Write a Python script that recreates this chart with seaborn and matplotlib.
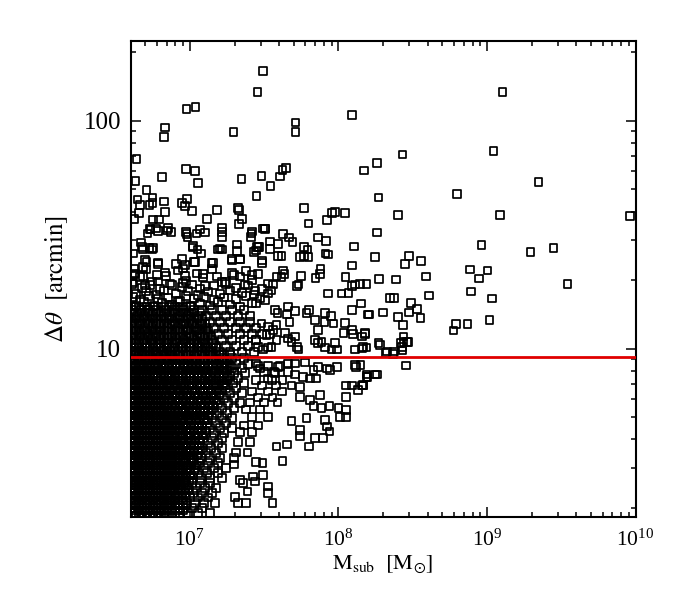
import numpy as np
import pandas as pd
import matplotlib
matplotlib.use('Agg')
import matplotlib.pyplot as plt
import matplotlib.ticker as mticker
import seaborn as sns

sns.set_theme(style='ticks')
plt.rcParams['font.family'] = ['Liberation Serif', 'DejaVu Serif']
plt.rcParams['mathtext.fontset'] = 'stix'
plt.rcParams['text.color'] = 'black'
plt.rcParams['axes.labelcolor'] = 'black'
plt.rcParams['xtick.color'] = 'black'
plt.rcParams['ytick.color'] = 'black'

# subhalo mass in units of 1e6 Msun, separation in arcmin
# isolated points read one by one
m_sparse = [
    31, 28.6, 9.5, 10.9, 6.8, 6.7, 19.7, 51.6, 51.6, 123,
    4.37, 4.3, 6.5, 9.4, 10.8, 11.4, 22.3, 30.4, 35, 40.3,
    42, 44.5, 28.1, 5.1, 5.6, 6.7, 6.8, 9.6, 8.9, 9.3,
    10.3, 13.0, 15.3, 21.2, 21.5, 22.5, 21.5, 58.7, 63, 84,
    91, 95, 111, 182, 186, 1270, 1110, 270, 2220, 628,
    252, 1230, 9200, 182, 920, 1970, 2800, 176, 299, 282,
    361, 767, 1010, 885, 3480, 188, 245, 390, 409, 783,
    1080, 222, 236, 308, 338, 299, 357, 252, 271, 199,
    160, 1040, 620, 740, 149, 32, 42.4, 46.7, 49, 34.6,
    39.4, 29.2, 72.6, 82.7, 58.7, 62, 58.7, 63, 55, 82,
    85, 127, 39.4, 41.5, 30.7, 28, 123, 76, 42.5,
    4.44, 4.6, 5.37, 5.6, 4.53, 4.2, 5.65, 6.2, 5.43, 5.95,
    5.2, 4.71, 5.37, 5.65, 4.86, 4.17, 7.05, 7.5, 9.5, 9.65,
    11.1, 12.6, 16.4, 16.4, 26, 25.7, 31.2, 10.4, 11.3, 11.9,
    15.5, 16.5, 20.7, 21.7, 19.1, 27, 28.9, 5.1, 6.1, 8.1,
    9.3, 10.7, 14, 4.86, 4.25, 9.0,
    75, 70.3, 56, 43.3, 41.5, 38.4, 36.4, 35.5, 33.7, 52.5,
    54, 27.4, 29.6, 32, 28, 112, 140, 155, 129, 123,
    105, 117, 85.5, 142, 123, 159, 81, 89, 93, 80.5,
    69.5, 73, 63.5, 61, 51, 46, 45, 47, 37.4, 39,
    38.4, 36.4, 33.7, 30.4, 32.9, 34.6, 111, 123, 126, 108,
    151, 144, 186, 212, 236, 274, 267, 297, 129, 147,
    81, 90, 97.5, 95, 69.5, 73, 77, 51, 52.5, 54,
    46, 43.7, 48.3, 38.4, 35.5, 33.7, 31.2, 28.9, 28,
    285, 129, 132, 155, 176, 113, 144, 123, 97.5, 83.5,
    88, 73, 68, 64.5, 71, 58, 51, 51, 59.5, 46,
    39.4, 37.4, 33.7, 29.6, 28, 48.3, 55,
    42, 36, 33.7, 33.7, 31.2, 30.9, 28, 26.7, 27.4, 24.5,
    22.9, 21.7, 21.2, 20.1, 24, 63.5, 55, 69.5, 79, 87,
    81, 100, 113, 113, 103, 83.5, 113, 136, 147, 155,
    182, 38.4, 45, 55, 48.3, 61, 68, 77, 87, 55,
    64.5, 75,
    274, 262, 290, 270, 190, 210, 233, 155, 144, 151,
    157, 146, 141, 595,
    28.8, 33.7, 40.6, 31.6, 37.0, 45.9, 27.9, 35.8, 42.0, 30.7,
    38.1, 26.3, 33.7, 41.9, 28.8, 36.0, 25.5, 31.6, 39.0, 23.9,
    29.7, 26.3, 33.7, 23.2, 28.8, 21.8, 26.3, 21.1, 25.5, 20.5,
    24.4, 19.8,
    5.39, 6.10, 7.13, 9.42, 11.7, 16.5, 26.3, 32.0,
    4.76, 5.56, 10.5, 16.0, 20.8, 28.3, 34.7,
    4.99, 6.10, 8.85, 10.8, 14.3, 19.2, 21.8, 30.7,
    4.27, 4.84, 6.80, 9.27, 12.3, 15.2, 19.2, 26.3,
    4.14, 4.99, 6.10, 7.58, 8.99, 12.7, 17.3, 23.6, 33.7,
]
theta_sparse = [
    165, 134, 113, 115, 93.5, 85, 89.5, 98.4, 89.2, 106,
    67.8, 54.6, 56.8, 61.4, 60.4, 53.5, 55.5, 57.2, 51.9, 57,
    61, 62, 46.9, 49.7, 46, 44.2, 39.9, 45.4, 43.7, 42.4,
    40.2, 37, 40.5, 41.5, 40.5, 37, 35.2, 41.5, 35.5, 36.7,
    39.3, 39.9, 39.5, 65.5, 46, 133.6, 73.8, 71.2, 54, 47.8,
    38.5, 38.5, 38.2, 32.3, 28.5, 26.6, 27.7, 25.3, 25.5, 23.5,
    24.3, 22.3, 22, 20.3, 19.2, 20.2, 20.1, 20.7, 17.1, 17.8,
    16.6, 16.7, 16.7, 15.9, 14.9, 14.4, 13.6, 13.8, 12.7, 14.4,
    14.1, 13.4, 12.8, 12.8, 60.6, 33.7, 31.8, 30.8, 29.4, 29.5,
    28.8, 28.0, 30.7, 29.7, 28, 27.2, 25.5, 25.3, 25.3, 26.2,
    25.9, 28.1, 25.5, 25.5, 24.4, 27, 23.2, 22.4, 22,
    45.2, 42.7, 42.7, 43.6, 39.3, 37, 36.9, 36.9, 33.4, 33.7,
    32, 29.3, 27.6, 27.6, 27.4, 26.2, 33, 32.6, 31.8, 31,
    32, 32.3, 32.6, 31, 32, 31, 33.7, 27.8, 27.2, 26.2,
    27.2, 27.2, 28.7, 24.6, 24.8, 26.5, 28, 24, 23.6, 23.6,
    23.3, 24, 23.8, 22.8, 22.5, 22.5,
    21.3, 20.4, 20.9, 21.3, 20.6, 20.7, 19.1, 18.0, 17.5, 18.8,
    19.1, 18, 16.6, 16.4, 15.8, 20.6, 19.2, 19.2, 19.1, 18.8,
    17.5, 17.6, 17.5, 15.8, 14.8, 14.1, 14.3, 13.9, 12.9, 13.1,
    13.4, 12.1, 14.8, 14.3, 14.6, 15.3, 14.1, 13.1, 14.8, 14.3,
    12.7, 12.1, 12.5, 12.9, 11.5, 11.6, 12.95, 12.1, 11.6, 11.7,
    11.7, 11.3, 10.6, 9.7, 9.7, 10.7, 10.2, 10.7, 9.9, 10.2,
    10.1, 9.9, 9.9, 10.6, 10.9, 10.6, 10.7, 11.3, 10.2, 9.9,
    11.1, 11.7, 10.7, 10.9, 10.2, 10.1, 9.9, 10.2, 10.9,
    8.45, 8.5, 8.3, 7.7, 7.7, 6.9, 6.9, 6.9, 8.3, 8.2,
    8.05, 8.3, 8.05, 7.4, 7.4, 7.5, 7.7, 8.6, 8.7, 8.6,
    8.3, 7.8, 7.4, 8.2, 8.6, 6.9, 6.8,
    3.22, 2.1, 2.48, 2.33, 2.79, 3.14, 3.19, 2.75, 2.61, 2.36,
    2.57, 2.65, 2.1, 2.24, 2.1, 3.72, 4.14, 4.05, 4.05, 4.33,
    4.86, 5.48, 5.38, 5.0, 5.0, 4.55, 6.15, 6.6, 6.93, 7.5,
    7.7, 3.72, 3.8, 4.4, 4.8, 4.95, 5.6, 5.5, 5.6, 6.15,
    5.95, 6.25,
    11.3, 10.6, 10.7, 9.8, 10.4, 9.6, 9.5, 10.1, 10.0, 11.6,
    7.5, 6.9, 8.5, 12.0,
    8.4, 8.4, 8.4, 7.9, 7.9, 7.9, 7.3, 7.3, 7.3, 6.9,
    6.9, 6.5, 6.5, 6.5, 6.1, 6.1, 5.8, 5.8, 5.8, 5.4,
    5.4, 5.0, 5.0, 4.6, 4.6, 4.3, 4.3, 3.9, 3.9, 3.5,
    3.5, 3.1,
    33.6, 32.8, 33.9, 32.5, 33.3, 34.0, 32.7, 33.5,
    27.9, 27.2, 28.3, 27.5, 26.9, 28.0, 27.3,
    24.5, 23.9, 24.7, 24.0, 23.7, 24.4, 24.8, 23.8,
    21.4, 20.8, 21.6, 20.9, 21.3, 20.7, 21.5, 21.0,
    19.5, 18.9, 19.7, 19.0, 19.4, 18.8, 19.6, 19.1, 19.3,
]

# upper edge of the crowd, 15-23 arcmin
m_edge = [
    4.21, 5.07, 6.01, 8.32, 11.2, 14.1, 19.8, 23.9, 28.8,
    4.62, 5.56, 6.91, 9.42, 12.3, 16.5, 21.8, 26.3,
    4.08, 4.76, 5.39, 6.30, 7.35, 8.85, 10.3, 11.7, 14.5, 17.5, 20.5, 24.7, 30.7,
    4.34, 5.07, 5.92, 6.70, 8.07, 9.72, 11.4, 13.3, 16.0, 18.7, 22.5, 27.1,
    4.14, 4.62, 5.31, 6.10, 7.13, 8.58, 9.42, 10.7, 12.5, 14.5, 17.0, 20.5, 23.9,
    4.34, 4.91, 5.74, 6.49, 7.58, 8.32, 10.0, 11.7, 13.7, 15.5, 18.7, 21.8, 26.3,
]
theta_edge = [
    21.2, 22.3, 21.0, 22.0, 21.4, 22.4, 21.1, 21.9, 21.3,
    20.6, 19.7, 20.9, 19.8, 20.5, 19.6, 20.7, 20.0,
    19.2, 18.5, 19.0, 18.3, 19.3, 18.6, 19.1, 18.4, 18.9, 19.2, 18.5, 18.9, 18.3,
    17.4, 17.9, 17.3, 18.0, 17.5, 17.9, 17.2, 17.8, 17.4, 18.0, 17.6, 17.3,
    16.9, 16.4, 17.0, 16.5, 16.8, 16.3, 17.0, 16.6, 16.9, 16.4, 16.8, 16.5, 17.0,
    15.5, 16.0, 15.4, 15.9, 15.6, 16.0, 15.4, 15.8, 15.5, 16.0, 15.6, 15.3, 15.9,
]

# crowded low-mass region, read row by row (one separation per row)
core_theta = [
    14.8, 13.9, 13.1, 12.3,
    11.6, 10.9, 10.3, 9.67, 9.10, 8.58, 8.23, 7.81, 7.44, 7.07,
    6.72, 6.39, 6.08, 5.78, 5.49, 5.22, 4.97, 4.72, 4.49, 4.27,
    4.06, 3.86, 3.67, 3.49, 3.32, 3.15, 3.00, 2.85, 2.71, 2.58,
    2.45, 2.33, 2.22, 2.10, 2.00, 1.90,
]
core_m = [
    [4.08, 4.69, 5.23, 5.92, 6.91, 7.82, 9.13, 10.7, 12.1, 14.1, 16.5, 19.2, 23.2],
    [4.41, 4.91, 5.56, 6.39, 7.35, 8.58, 9.72, 11.4, 12.9, 15.0, 17.5, 21.1, 25.5],
    [4.08, 4.62, 5.23, 5.92, 6.70, 7.82, 9.13, 10.3, 12.1, 13.7, 16.0, 18.7, 21.8, 25.5],
    [4.34, 4.99, 5.56, 6.30, 7.13, 8.32, 9.72, 11.0, 12.9, 14.5, 17.0, 20.5, 23.9, 27.9],
    [4.14, 4.62, 5.23, 5.83, 6.70, 7.58, 8.58, 10.0, 11.7, 13.3, 15.5, 18.1, 21.8, 26.3, 30.7],
    [4.34, 4.91, 5.47, 6.30, 7.13, 8.07, 9.13, 10.7, 12.5, 14.1, 16.5, 19.2, 23.2, 27.9],
    [4.08, 4.55, 5.07, 5.65, 6.30, 7.02, 7.82, 8.85, 10.0, 11.4, 12.9, 15.0, 17.5, 20.5, 24.7],
    [4.27, 4.76, 5.31, 5.92, 6.60, 7.35, 8.32, 9.42, 10.7, 12.1, 13.7, 16.0, 18.7, 22.5, 27.1],
    [4.08, 4.48, 4.99, 5.56, 6.20, 6.91, 7.70, 8.58, 9.72, 11.0, 12.5, 14.1, 16.5, 19.2, 23.2],
    [4.27, 4.69, 5.23, 5.83, 6.49, 7.24, 8.07, 9.13, 10.3, 11.7, 13.3, 15.2, 17.5, 20.5, 24.7],
    [4.08, 4.48, 4.91, 5.47, 6.10, 6.80, 7.58, 8.58, 9.72, 11.0, 12.5, 14.3, 16.5, 19.2, 22.5],
    [4.27, 4.69, 5.15, 5.74, 6.39, 7.13, 7.94, 8.85, 10.0, 11.4, 12.9, 14.8, 17.0, 19.8, 23.6],
    [4.08, 4.48, 4.91, 5.39, 6.01, 6.70, 7.46, 8.32, 9.42, 10.7, 12.1, 13.7, 15.7, 18.1, 21.1],
    [4.27, 4.69, 5.15, 5.65, 6.30, 7.02, 7.82, 8.71, 9.86, 11.2, 12.7, 14.5, 16.7, 19.5, 23.2],
    [4.08, 4.48, 4.91, 5.39, 5.92, 6.60, 7.35, 8.19, 9.13, 10.3, 11.7, 13.3, 15.2, 17.5, 20.5],
    [4.27, 4.69, 5.15, 5.65, 6.20, 6.91, 7.70, 8.58, 9.57, 10.8, 12.3, 13.9, 16.0, 18.7, 22.5],
    [4.08, 4.48, 4.91, 5.39, 5.92, 6.49, 7.24, 8.07, 8.99, 10.0, 11.4, 12.9, 14.5, 17.0, 19.8],
    [4.27, 4.69, 5.15, 5.65, 6.20, 6.80, 7.58, 8.45, 9.42, 10.5, 11.9, 13.5, 15.5, 18.1, 21.8],
    [4.08, 4.48, 4.91, 5.39, 5.92, 6.49, 7.13, 7.94, 8.85, 9.86, 11.0, 12.5, 14.3, 16.5, 19.8],
    [4.27, 4.69, 5.15, 5.65, 6.20, 6.80, 7.46, 8.32, 9.27, 10.3, 11.7, 13.3, 15.2, 17.8],
    [4.08, 4.48, 4.91, 5.39, 5.92, 6.49, 7.13, 7.82, 8.71, 9.72, 11.0, 12.5, 14.1, 16.5, 19.2],
    [4.27, 4.69, 5.15, 5.65, 6.20, 6.80, 7.46, 8.19, 9.13, 10.2, 11.5, 13.1, 15.0, 17.5],
    [4.08, 4.48, 4.91, 5.39, 5.92, 6.49, 7.13, 7.82, 8.58, 9.57, 10.7, 12.1, 13.7, 16.0, 19.2],
    [4.27, 4.69, 5.15, 5.65, 6.20, 6.80, 7.46, 8.19, 8.99, 10.0, 11.4, 12.9, 14.5, 17.0],
    [4.08, 4.48, 4.91, 5.39, 5.92, 6.49, 7.13, 7.82, 8.71, 9.72, 10.8, 12.3, 14.1, 16.5],
    [4.27, 4.69, 5.15, 5.65, 6.20, 6.80, 7.46, 8.19, 9.13, 10.2, 11.5, 13.3, 15.5],
    [4.08, 4.48, 4.91, 5.39, 5.92, 6.49, 7.13, 7.82, 8.58, 9.57, 10.7, 12.1, 13.9, 16.5],
    [4.27, 4.69, 5.15, 5.65, 6.20, 6.80, 7.46, 8.19, 8.99, 10.0, 11.4, 12.9, 15.0],
    [4.08, 4.48, 4.91, 5.39, 5.92, 6.49, 7.13, 7.82, 8.58, 9.42, 10.5, 11.9, 13.7, 16.0, 19.8],
    [4.27, 4.69, 5.15, 5.65, 6.20, 6.80, 7.46, 8.19, 9.13, 10.2, 11.5, 13.3, 15.5],
    [4.08, 4.48, 4.91, 5.39, 5.92, 6.49, 7.13, 7.82, 8.58, 9.57, 10.8, 12.5, 14.5, 17.5],
    [4.27, 4.69, 5.15, 5.65, 6.20, 6.80, 7.46, 8.19, 8.99, 10.0, 11.4, 13.1, 15.5],
    [4.08, 4.48, 4.91, 5.39, 5.92, 6.49, 7.13, 7.82, 8.58, 9.42, 10.5, 11.9, 13.7, 16.5],
    [4.27, 4.69, 5.15, 5.65, 6.20, 6.80, 7.46, 8.19, 9.13, 10.3, 11.7, 13.7],
    [4.08, 4.48, 4.91, 5.39, 5.92, 6.49, 7.13, 7.82, 8.71, 9.72, 11.0, 12.7, 15.0],
    [4.27, 4.69, 5.15, 5.65, 6.20, 6.80, 7.46, 8.32, 9.27, 10.5, 12.1, 14.1],
    [4.08, 4.48, 4.91, 5.39, 5.92, 6.49, 7.13, 7.94, 8.85, 10.0, 11.4, 13.3],
    [4.27, 4.69, 5.15, 5.65, 6.20, 6.80, 7.46, 8.32, 9.42, 10.8, 12.5, 14.8],
    [4.08, 4.48, 4.91, 5.39, 5.92, 6.49, 7.13, 7.94, 8.99, 10.3, 12.1],
    [4.27, 4.69, 5.15, 5.65, 6.20, 6.80, 7.58, 8.58, 9.72, 11.4, 13.7],
]

# the solid black part in between those rows
fill_theta = [
    15.3, 14.4, 13.55, 12.8, 12.0, 11.3, 10.6,
    10.05, 9.43, 8.87, 8.37, 8.02, 7.61, 7.25, 6.89, 6.55, 6.23,
    5.93, 5.64, 5.35, 5.09, 4.85, 4.60, 4.38, 4.16, 3.96, 3.76,
    3.58, 3.40, 3.24, 3.07, 2.93, 2.78, 2.64, 2.52, 2.39, 2.27,
    2.16, 2.05, 1.95, 1.85,
]
fill_m = [
    [4.02, 4.34, 4.76, 5.15, 5.65, 6.10, 6.70, 7.24, 7.94, 8.58, 9.42, 10.2],
    [4.21, 4.55, 4.99, 5.39, 5.92, 6.39, 7.02, 7.58, 8.32, 8.99, 9.86, 10.7, 11.7],
    [4.02, 4.34, 4.76, 5.15, 5.65, 6.10, 6.70, 7.24, 7.94, 8.58, 9.42, 10.2, 11.2, 12.1],
    [4.21, 4.55, 4.99, 5.39, 5.92, 6.39, 7.02, 7.58, 8.32, 8.99, 9.86, 10.7, 11.7, 12.7],
    [4.02, 4.34, 4.76, 5.15, 5.65, 6.10, 6.70, 7.24, 7.94, 8.58, 9.42, 10.2, 11.2, 12.1, 13.3],
    [4.21, 4.55, 4.99, 5.39, 5.92, 6.39, 7.02, 7.58, 8.32, 8.99, 9.86, 10.7, 11.7, 12.7, 13.9],
    [4.02, 4.34, 4.76, 5.15, 5.65, 6.10, 6.70, 7.24, 7.94, 8.58, 9.42, 10.2, 11.2, 12.1, 13.3, 14.3],
    [4.21, 4.55, 4.99, 5.39, 5.92, 6.39, 7.02, 7.58, 8.32, 8.99, 9.86, 10.7, 11.7, 12.7, 13.9, 15.0],
    [4.02, 4.34, 4.76, 5.15, 5.65, 6.10, 6.70, 7.24, 7.94, 8.58, 9.42, 10.2, 11.2, 12.1, 13.3, 14.3, 15.7, 17.0, 18.7],
    [4.21, 4.55, 4.99, 5.39, 5.92, 6.39, 7.02, 7.58, 8.32, 8.99, 9.86, 10.7, 11.7, 12.7, 13.9, 15.0, 16.5, 17.8],
    [4.02, 4.34, 4.76, 5.15, 5.65, 6.10, 6.70, 7.24, 7.94, 8.58, 9.42, 10.2, 11.2, 12.1, 13.3, 14.3, 15.7, 17.0, 18.7],
    [4.21, 4.55, 4.99, 5.39, 5.92, 6.39, 7.02, 7.58, 8.32, 8.99, 9.86, 10.7, 11.7, 12.7, 13.9, 15.0, 16.5, 17.8],
    [4.02, 4.34, 4.76, 5.15, 5.65, 6.10, 6.70, 7.24, 7.94, 8.58, 9.42, 10.2, 11.2, 12.1, 13.3, 14.3, 15.7, 17.0, 18.7],
    [4.21, 4.55, 4.99, 5.39, 5.92, 6.39, 7.02, 7.58, 8.32, 8.99, 9.86, 10.7, 11.7, 12.7, 13.9, 15.0, 16.5, 17.8],
    [4.02, 4.34, 4.76, 5.15, 5.65, 6.10, 6.70, 7.24, 7.94, 8.58, 9.42, 10.2, 11.2, 12.1, 13.3, 14.3, 15.7, 17.0],
    [4.21, 4.55, 4.99, 5.39, 5.92, 6.39, 7.02, 7.58, 8.32, 8.99, 9.86, 10.7, 11.7, 12.7, 13.9, 15.0, 16.5],
    [4.02, 4.34, 4.76, 5.15, 5.65, 6.10, 6.70, 7.24, 7.94, 8.58, 9.42, 10.2, 11.2, 12.1, 13.3, 14.3, 15.7],
    [4.21, 4.55, 4.99, 5.39, 5.92, 6.39, 7.02, 7.58, 8.32, 8.99, 9.86, 10.7, 11.7, 12.7, 13.9, 15.0],
    [4.02, 4.34, 4.76, 5.15, 5.65, 6.10, 6.70, 7.24, 7.94, 8.58, 9.42, 10.2, 11.2, 12.1, 13.3, 14.3],
    [4.21, 4.55, 4.99, 5.39, 5.92, 6.39, 7.02, 7.58, 8.32, 8.99, 9.86, 10.7, 11.7, 12.7, 13.9],
    [4.02, 4.34, 4.76, 5.15, 5.65, 6.10, 6.70, 7.24, 7.94, 8.58, 9.42, 10.2, 11.2, 12.1, 13.3],
    [4.21, 4.55, 4.99, 5.39, 5.92, 6.39, 7.02, 7.58, 8.32, 8.99, 9.86, 10.7, 11.7, 12.7],
    [4.02, 4.34, 4.76, 5.15, 5.65, 6.10, 6.70, 7.24, 7.94, 8.58, 9.42, 10.2, 11.2, 12.1],
    [4.21, 4.55, 4.99, 5.39, 5.92, 6.39, 7.02, 7.58, 8.32, 8.99, 9.86, 10.7, 11.7, 12.7],
    [4.02, 4.34, 4.76, 5.15, 5.65, 6.10, 6.70, 7.24, 7.94, 8.58, 9.42, 10.2, 11.2, 12.1],
    [4.21, 4.55, 4.99, 5.39, 5.92, 6.39, 7.02, 7.58, 8.32, 8.99, 9.86, 10.7, 11.7],
    [4.02, 4.34, 4.76, 5.15, 5.65, 6.10, 6.70, 7.24, 7.94, 8.58, 9.42, 10.2, 11.2],
    [4.21, 4.55, 4.99, 5.39, 5.92, 6.39, 7.02, 7.58, 8.32, 8.99, 9.86, 10.7, 11.7],
    [4.02, 4.34, 4.76, 5.15, 5.65, 6.10, 6.70, 7.24, 7.94, 8.58, 9.42, 10.2, 11.2],
    [4.21, 4.55, 4.99, 5.39, 5.92, 6.39, 7.02, 7.58, 8.32, 8.99, 9.86, 10.7],
    [4.02, 4.34, 4.76, 5.15, 5.65, 6.10, 6.70, 7.24, 7.94, 8.58, 9.42, 10.2, 11.2],
    [4.21, 4.55, 4.99, 5.39, 5.92, 6.39, 7.02, 7.58, 8.32, 8.99, 9.86, 10.7],
    [4.02, 4.34, 4.76, 5.15, 5.65, 6.10, 6.70, 7.24, 7.94, 8.58, 9.42, 10.2],
    [4.21, 4.55, 4.99, 5.39, 5.92, 6.39, 7.02, 7.58, 8.32, 8.99, 9.86],
    [4.02, 4.34, 4.76, 5.15, 5.65, 6.10, 6.70, 7.24, 7.94, 8.58, 9.42],
    [4.21, 4.55, 4.99, 5.39, 5.92, 6.39, 7.02, 7.58, 8.32, 8.99, 9.86],
    [4.02, 4.34, 4.76, 5.15, 5.65, 6.10, 6.70, 7.24, 7.94, 8.58, 9.42],
    [4.21, 4.55, 4.99, 5.39, 5.92, 6.39, 7.02, 7.58, 8.32, 8.99],
    [4.02, 4.34, 4.76, 5.15, 5.65, 6.10, 6.70, 7.24, 7.94, 8.58, 9.42],
    [4.21, 4.55, 4.99, 5.39, 5.92, 6.39, 7.02, 7.58, 8.32, 8.99],
    [4.02, 4.34, 4.76, 5.15, 5.65, 6.10, 6.70, 7.24, 7.94, 8.58],
]

theta_cut = 9.2
x_major = [1e7, 1e8, 1e9, 1e10]
y_major = [10, 100]

rows_theta = core_theta + fill_theta
rows_m = core_m + fill_m
m_all = m_sparse + m_edge + [m for row in rows_m for m in row]
theta_all = theta_sparse + theta_edge + [t for t, row in zip(rows_theta, rows_m) for _ in row]
df = pd.DataFrame({'msub': np.array(m_all) * 1e6, 'dtheta': theta_all})

fig = plt.figure(figsize=(6.75, 6), dpi=100)
ax = fig.add_axes([0.1936, 0.1388, 0.7479, 0.7928])
ax.set_xscale('log')
ax.set_yscale('log')

sns.scatterplot(data=df, x='msub', y='dtheta', marker='s', s=30,
                facecolor='none', edgecolor='black', linewidth=1.25,
                legend=False, ax=ax)
ax.axhline(theta_cut, color='#e00000', linewidth=2.0, zorder=5)

ax.set_xlim(4e6, 1e10)
ax.set_ylim(1.83, 224)

ax.xaxis.set_major_locator(mticker.FixedLocator(x_major))
ax.xaxis.set_major_formatter(mticker.LogFormatterSciNotation())
ax.xaxis.set_minor_locator(mticker.LogLocator(base=10, subs=np.arange(2, 10), numticks=20))
ax.xaxis.set_minor_formatter(mticker.NullFormatter())
ax.yaxis.set_major_locator(mticker.FixedLocator(y_major))
ax.yaxis.set_major_formatter(mticker.FuncFormatter(lambda v, _: f'{v:g}'))
ax.yaxis.set_minor_locator(mticker.LogLocator(base=10, subs=np.arange(2, 10), numticks=20))
ax.yaxis.set_minor_formatter(mticker.NullFormatter())

ax.tick_params(which='both', direction='in', top=True, right=True, width=1.1, color='black')
ax.tick_params(which='major', length=7.5)
ax.tick_params(which='minor', length=3.8)
ax.tick_params(axis='x', which='major', labelsize=15.5, pad=9)
ax.tick_params(axis='y', which='major', labelsize=18, pad=7)
for sp in ax.spines.values():
    sp.set_linewidth(1.5)
    sp.set_color('black')

ax.set_xlabel(r'$\mathrm{M_{sub}\ \ [M_{\odot}]}$', fontsize=16, labelpad=2)
ax.set_ylabel(r'$\Delta\theta\ \ \mathrm{[arcmin]}$', fontsize=18, labelpad=10)

fig.savefig('out.png', dpi=100, facecolor='white')
